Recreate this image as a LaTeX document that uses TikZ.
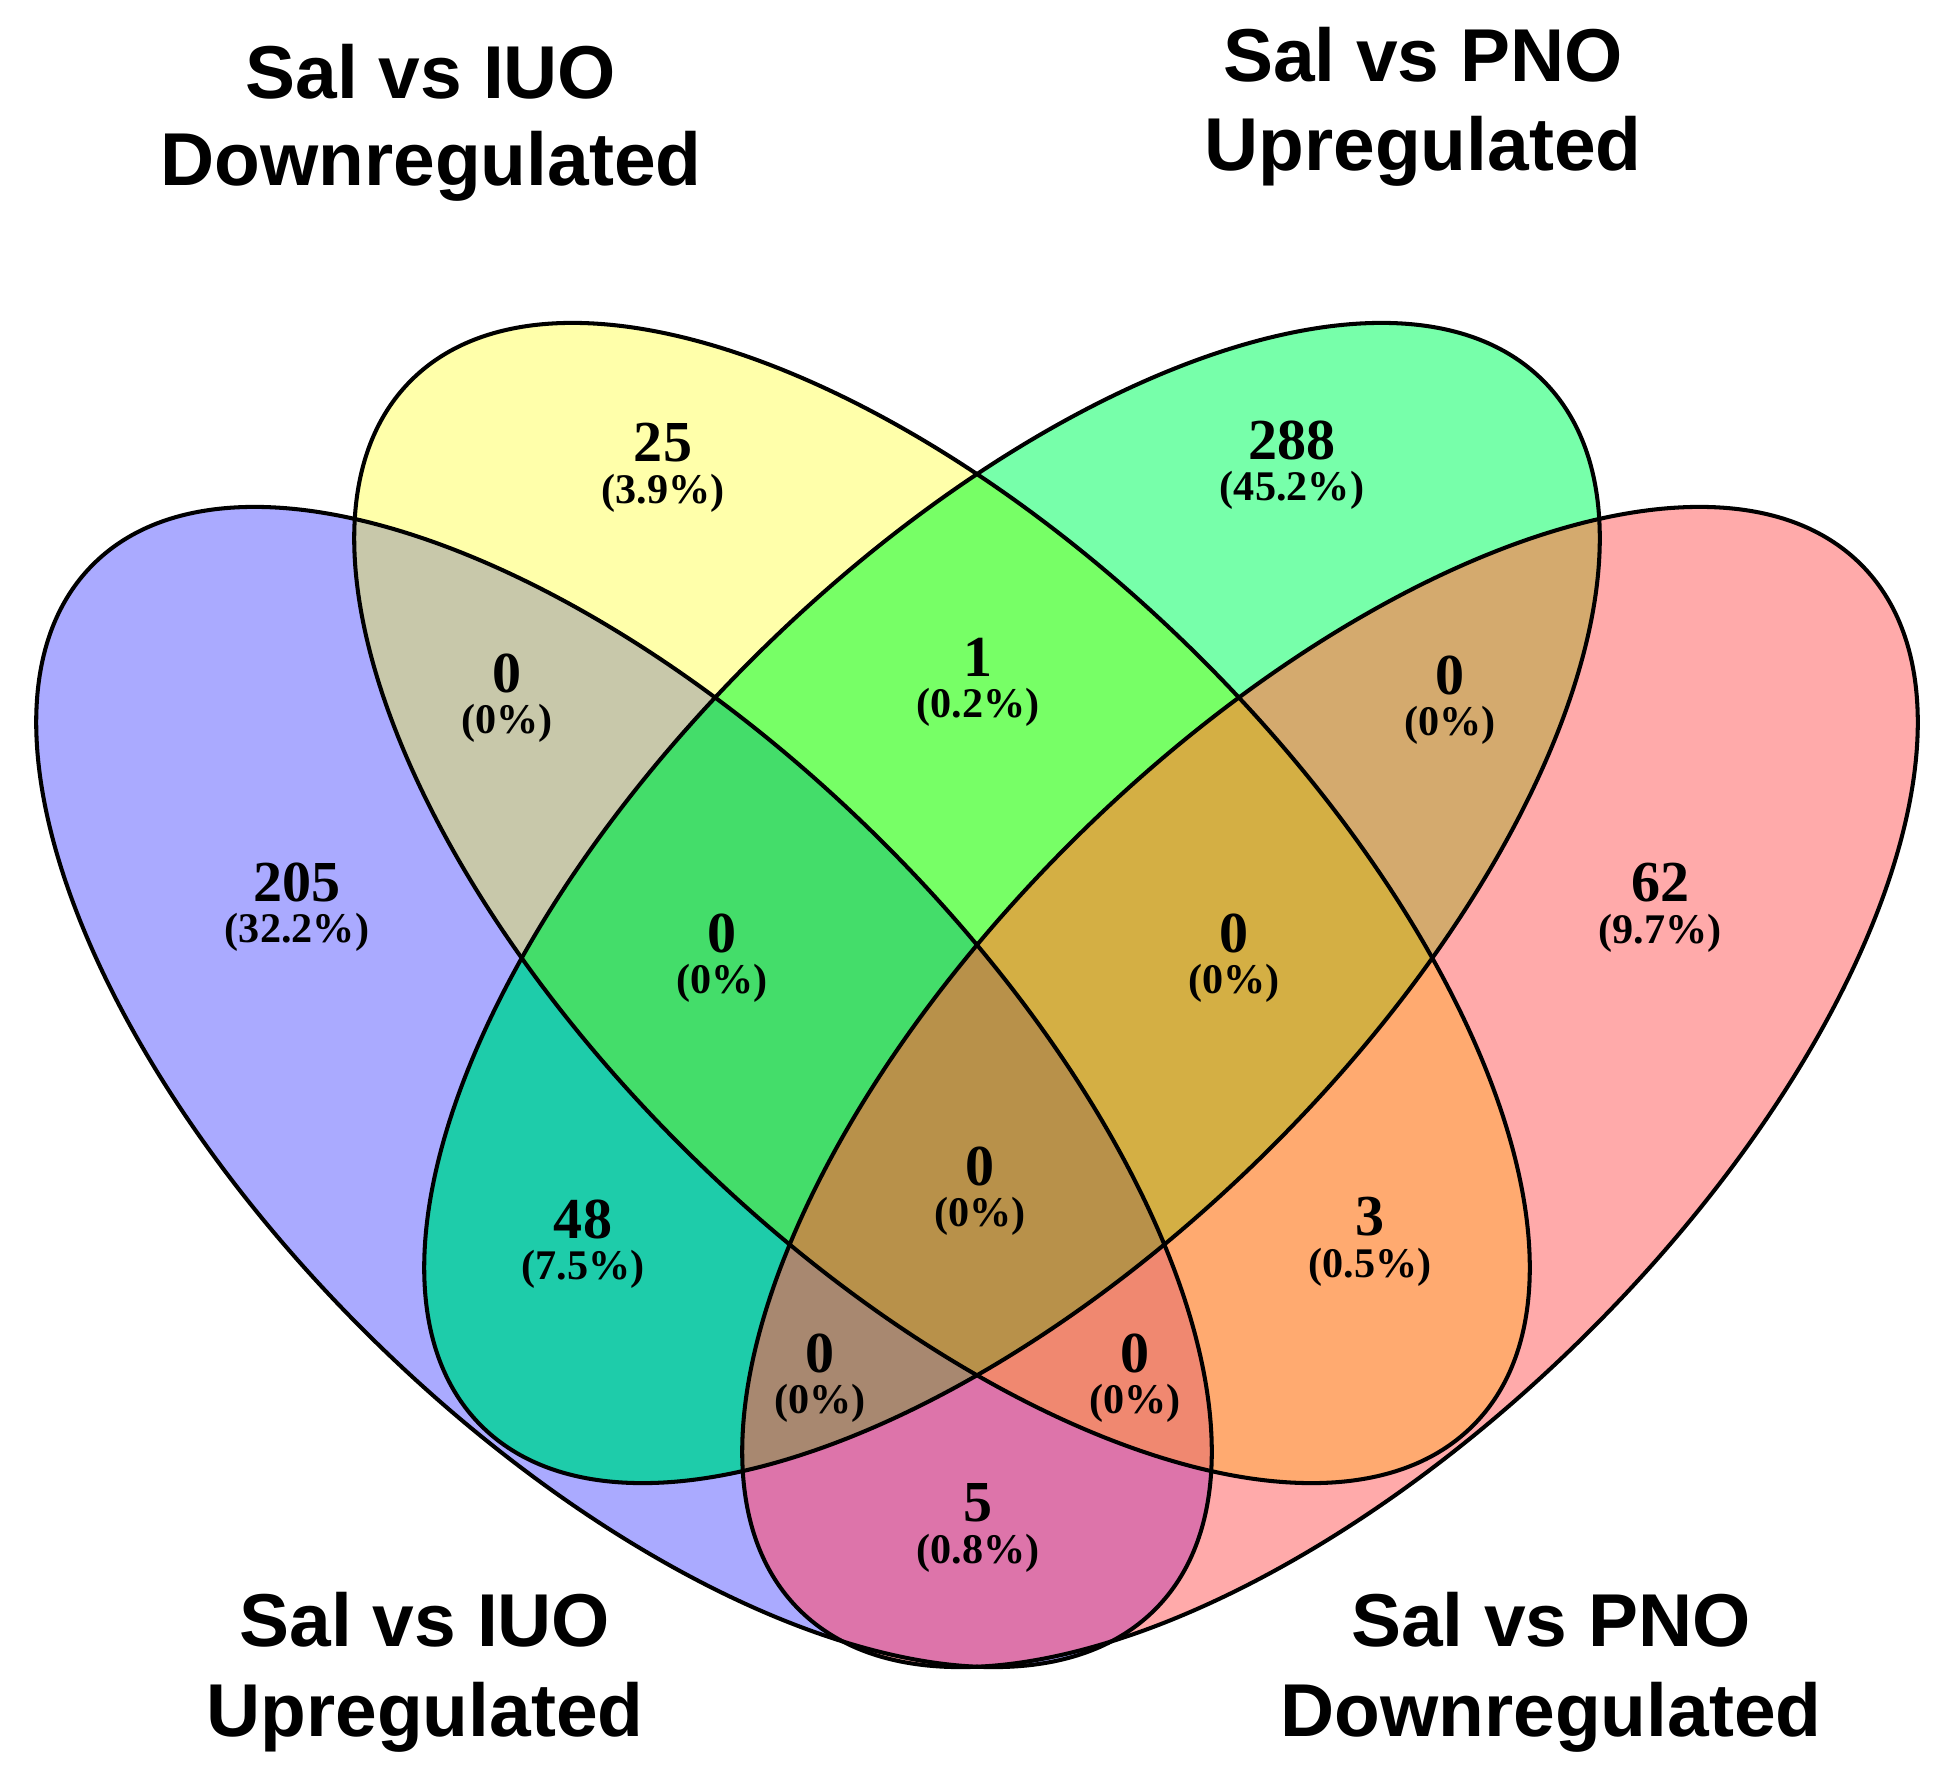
\documentclass[tikz,border=0pt]{standalone}
\usepackage{fontspec}
\setmainfont{Liberation Serif}
\newfontfamily\titlefont{Liberation Sans}
\definecolor{cB}{HTML}{AAAAFF}
\definecolor{cY}{HTML}{FFFFAA}
\definecolor{cG}{HTML}{77FFAA}
\definecolor{cR}{HTML}{FFAAAA}
\definecolor{cBY}{HTML}{C8C8AA}
\definecolor{cBG}{HTML}{1ECCAA}
\definecolor{cBR}{HTML}{DD74AA}
\definecolor{cYG}{HTML}{77FF66}
\definecolor{cYR}{HTML}{FFAA70}
\definecolor{cGR}{HTML}{D4AA6E}
\definecolor{cBYG}{HTML}{44DD6A}
\definecolor{cBYR}{HTML}{F08870}
\definecolor{cBGR}{HTML}{A88870}
\definecolor{cYGR}{HTML}{D4AF44}
\definecolor{cAll}{HTML}{B8914A}
\newcommand\clipB{\clip[rotate around={-44.4:(624,681)}] (624,681) ellipse [x radius=745,y radius=356];}
\newcommand\clipY{\clip[rotate around={-44.4:(942,865)}] (942,865) ellipse [x radius=745,y radius=356];}
\newcommand\clipG{\clip[rotate around={44.4:(1012,865)}] (1012,865) ellipse [x radius=745,y radius=356];}
\newcommand\clipR{\clip[rotate around={44.4:(1330,681)}] (1330,681) ellipse [x radius=745,y radius=356];}
\newcommand\paint[1]{\fill[#1] (0,0) rectangle (1945,1768);}
\begin{document}
\begin{tikzpicture}[x=0.01cm,y=0.01cm,
  cnt/.style={font=\fontsize{16.5}{18}\selectfont\bfseries, inner sep=0pt},
  pct/.style={font=\fontsize{12}{13}\selectfont\bfseries, inner sep=0pt},
  ttl/.style={font=\titlefont\fontsize{21.3}{25}\selectfont\bfseries, inner sep=0pt, anchor=base},
  outline/.style={draw=black, line width=1.15pt}]
\useasboundingbox (0,0) rectangle (1945,1768);
\fill[white] (0,0) rectangle (1945,1768);
% single sets
\begin{scope}\clipB\paint{cB}\end{scope}
\begin{scope}\clipY\paint{cY}\end{scope}
\begin{scope}\clipG\paint{cG}\end{scope}
\begin{scope}\clipR\paint{cR}\end{scope}
% pairs
\begin{scope}\clipB\clipY\paint{cBY}\end{scope}
\begin{scope}\clipB\clipG\paint{cBG}\end{scope}
\begin{scope}\clipB\clipR\paint{cBR}\end{scope}
\begin{scope}\clipY\clipG\paint{cYG}\end{scope}
\begin{scope}\clipY\clipR\paint{cYR}\end{scope}
\begin{scope}\clipG\clipR\paint{cGR}\end{scope}
% triples
\begin{scope}\clipB\clipY\clipG\paint{cBYG}\end{scope}
\begin{scope}\clipB\clipY\clipR\paint{cBYR}\end{scope}
\begin{scope}\clipB\clipG\clipR\paint{cBGR}\end{scope}
\begin{scope}\clipY\clipG\clipR\paint{cYGR}\end{scope}
% all four
\begin{scope}\clipB\clipY\clipG\clipR\paint{cAll}\end{scope}
% outlines
\draw[outline, rotate around={-44.4:(624,681)}] (624,681) ellipse [x radius=745,y radius=356];
\draw[outline, rotate around={-44.4:(942,865)}] (942,865) ellipse [x radius=745,y radius=356];
\draw[outline, rotate around={44.4:(1012,865)}] (1012,865) ellipse [x radius=745,y radius=356];
\draw[outline, rotate around={44.4:(1330,681)}] (1330,681) ellipse [x radius=745,y radius=356];
% counts and percentages
\node[cnt] (nB) at (297,886) {205};   \node[pct] (pB) at (297,836) {(32.2\%)};
\node[cnt] (nY) at (663,1325) {25};   \node[pct] (pY) at (663,1275) {(3.9\%)};
\node[cnt] (nG) at (1292,1328) {288}; \node[pct] (pG) at (1292,1278) {(45.2\%)};
\node[cnt] (nR) at (1660,885) {62};   \node[pct] (pR) at (1660,835) {(9.7\%)};
\node[cnt] (nBY) at (507,1095) {0};   \node[pct] (pBY) at (507,1045) {(0\%)};
\node[cnt] (nYG) at (978,1111) {1};   \node[pct] (pYG) at (978,1061) {(0.2\%)};
\node[cnt] (nGR) at (1450,1093) {0};  \node[pct] (pGR) at (1450,1043) {(0\%)};
\node[cnt] (nBYG) at (722,835) {0};   \node[pct] (pBYG) at (722,785) {(0\%)};
\node[cnt] (nYGR) at (1234,835) {0};  \node[pct] (pYGR) at (1234,785) {(0\%)};
\node[cnt] (nBG) at (583,549) {48};   \node[pct] (pBG) at (583,499) {(7.5\%)};
\node[cnt] (nAll) at (980,602) {0};   \node[pct] (pAll) at (980,552) {(0\%)};
\node[cnt] (nYR) at (1370,551) {3};   \node[pct] (pYR) at (1370,501) {(0.5\%)};
\node[cnt] (nBGR) at (820,415) {0};   \node[pct] (pBGR) at (820,365) {(0\%)};
\node[cnt] (nBYR) at (1135,415) {0};  \node[pct] (pBYR) at (1135,365) {(0\%)};
\node[cnt] (nBR) at (978,265) {5};    \node[pct] (pBR) at (978,215) {(0.8\%)};
% titles
\node[ttl] (t1a) at (431,1669) {Sal vs IUO};
\node[ttl] (t1b) at (431,1582) {Downregulated};
\node[ttl] (t2a) at (1423,1686) {Sal vs PNO};
\node[ttl] (t2b) at (1423,1597) {Upregulated};
\node[ttl] (t3a) at (425,122) {Sal vs IUO};
\node[ttl] (t3b) at (425,32) {Upregulated};
\node[ttl] (t4a) at (1551,122) {Sal vs PNO};
\node[ttl] (t4b) at (1551,32) {Downregulated};
\end{tikzpicture}
\end{document}
